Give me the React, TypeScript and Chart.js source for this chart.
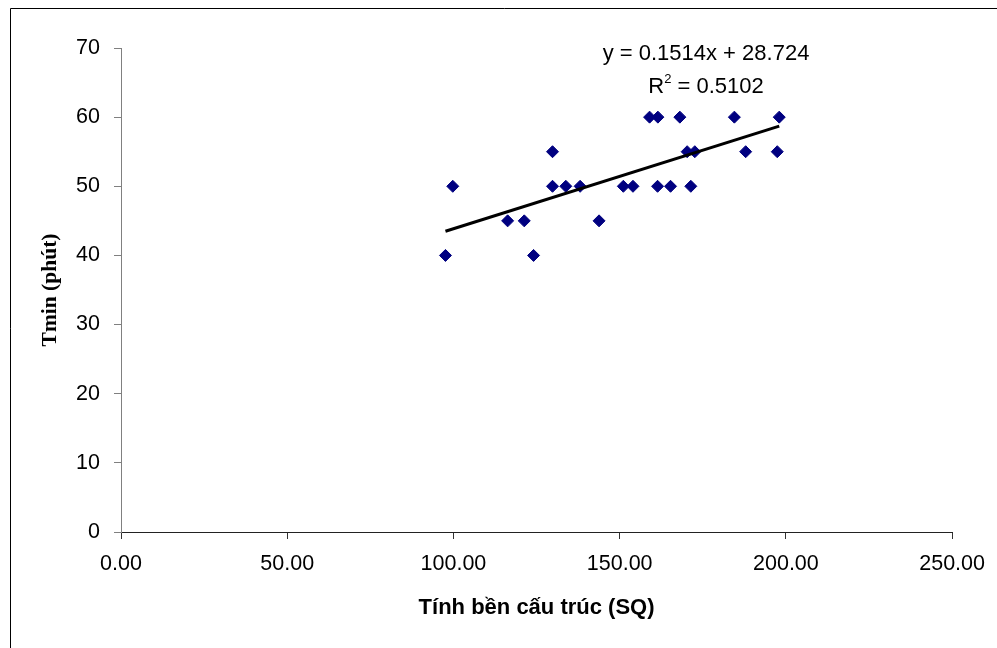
import React, { useEffect, useRef } from 'react';
import { Chart, registerables } from 'chart.js';

Chart.register(...registerables);

// ---- data ----
const xValues = [
  97.6, 124.1,
  116.3, 121.3, 143.8,
  99.8, 129.8, 133.8, 138.1, 151.1, 154.0, 161.4, 165.3, 171.4,
  129.8, 170.3, 172.6, 187.9, 197.4,
  159.0, 161.5, 168.1, 184.5, 198.0,
];
const yValues = [
  40, 40,
  45, 45, 45,
  50, 50, 50, 50, 50, 50, 50, 50, 50,
  55, 55, 55, 55, 55,
  60, 60, 60, 60, 60,
];
const trendSlope = 0.1514;
const trendIntercept = 28.724;
const equationLabel = 'y = 0.1514x + 28.724';
const r2Value = '0.5102';
const xAxisTitle = 'Tính bền cấu trúc (SQ)';
const yAxisTitle = 'Tmin (phút)';
const xRange = [0, 250];
const xStep = 50;
const yRange = [0, 70];
const yStep = 10;

const SANS = '"Liberation Sans", Arial, sans-serif';
const SERIF = '"Liberation Serif", "Times New Roman", serif';

const decorPlugin = {
  id: 'decor',
  afterDraw(chart: any) {
    const ctx: CanvasRenderingContext2D = chart.ctx;
    ctx.save();
    // outer frame (left and top edges visible)
    ctx.strokeStyle = '#000';
    ctx.lineWidth = 1;
    ctx.beginPath();
    ctx.moveTo(10.5, 700);
    ctx.lineTo(10.5, 8.5);
    ctx.lineTo(1000, 8.5);
    ctx.stroke();

    // trendline equation
    ctx.fillStyle = '#000';
    ctx.textBaseline = 'alphabetic';
    ctx.font = `22px ${SANS}`;
    ctx.textAlign = 'center';
    const cx = 706;
    ctx.fillText(equationLabel, cx, 59.5);

    // R² line
    ctx.textAlign = 'left';
    const mainFont = `22px ${SANS}`;
    const supFont = `13px ${SANS}`;
    ctx.font = mainFont;
    const wR = ctx.measureText('R').width;
    const rest = ' = ' + r2Value;
    const wRest = ctx.measureText(rest).width;
    ctx.font = supFont;
    const wSup = ctx.measureText('2').width;
    const total = wR + wSup + wRest;
    let x = cx - total / 2;
    const base = 93;
    ctx.font = mainFont;
    ctx.fillText('R', x, base);
    x += wR;
    ctx.font = supFont;
    ctx.fillText('2', x, base - 10);
    x += wSup;
    ctx.font = mainFont;
    ctx.fillText(rest, x, base);
    ctx.restore();
  },
};

export default function App() {
  const canvasRef = useRef<HTMLCanvasElement | null>(null);

  useEffect(() => {
    if (!canvasRef.current) return;
    const points = xValues.map((x, i) => ({ x, y: yValues[i] }));
    const xMin = Math.min(...xValues);
    const xMax = Math.max(...xValues);
    const trend = [
      { x: xMin, y: trendSlope * xMin + trendIntercept },
      { x: xMax, y: trendSlope * xMax + trendIntercept },
    ];

    const chart = new Chart(canvasRef.current, {
      type: 'scatter',
      data: {
        datasets: [
          {
            type: 'line',
            data: trend,
            borderColor: '#000',
            borderWidth: 3,
            pointRadius: 0,
            fill: false,
            order: 0,
          } as any,
          {
            data: points,
            pointStyle: 'rectRot',
            pointRadius: 6,
            pointBackgroundColor: '#000080',
            pointBorderColor: '#000080',
            pointBorderWidth: 1,
            order: 1,
          },
        ],
      },
      options: {
        responsive: false,
        animation: false,
        layout: { padding: { left: 0, top: 48, right: 43, bottom: 0 } },
        plugins: {
          legend: { display: false },
          tooltip: { enabled: false },
        },
        scales: {
          x: {
            type: 'linear',
            min: xRange[0],
            max: xRange[1],
            afterFit: (scale: any) => {
              scale.height = 116;
            },
            ticks: {
              stepSize: xStep,
              color: '#000',
              font: { family: SANS, size: 21.5 },
              padding: 12,
              maxRotation: 0,
              callback: (v: any) => Number(v).toFixed(2),
            },
            grid: {
              display: true,
              drawOnChartArea: false,
              drawTicks: true,
              tickLength: 7,
              tickColor: '#333',
            },
            border: { display: true, color: '#222', width: 1 },
            title: {
              display: true,
              text: xAxisTitle,
              color: '#000',
              font: { family: SANS, size: 22, weight: 'bold' },
              padding: { top: 0, bottom: 27 },
            },
          },
          y: {
            type: 'linear',
            min: yRange[0],
            max: yRange[1],
            afterFit: (scale: any) => {
              scale.width = 121;
            },
            ticks: {
              stepSize: yStep,
              color: '#000',
              font: { family: SANS, size: 21.5 },
              padding: 14,
            },
            grid: {
              display: true,
              drawOnChartArea: false,
              drawTicks: true,
              tickLength: 7,
              tickColor: '#808080',
            },
            border: { display: true, color: '#808080', width: 1 },
            title: {
              display: true,
              text: yAxisTitle,
              color: '#000',
              font: { family: SERIF, size: 21.5, weight: 'bold' },
              padding: { top: 38, bottom: 0 },
            },
          },
        },
      },
      plugins: [decorPlugin],
    });
    return () => chart.destroy();
  }, []);

  return (
    <div style={{ position: 'fixed', left: 0, top: 0, width: 997, height: 648, background: '#fff' }}>
      <canvas ref={canvasRef} width={997} height={648} style={{ display: 'block' }} />
    </div>
  );
}
